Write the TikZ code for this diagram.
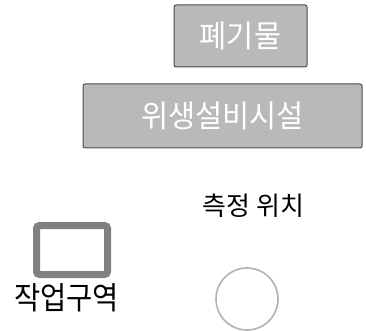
\documentclass[tikz,border=0pt]{standalone}
\usepackage{fontspec}
\setmainfont{Noto Sans CJK KR}
\begin{document}
\begin{tikzpicture}[x=1pt,y=-1pt,
  graybox/.style={draw=gray!60!black,line width=1pt,fill=gray!55,rounded corners=2pt,inner sep=0pt,
    text=white,font=\fontsize{29.5}{32}\selectfont},
  plain/.style={inner sep=0pt,text=black},
  workbox/.style={draw=gray,line width=7pt,rounded corners=3pt,minimum width=71pt,minimum height=49pt,inner sep=0pt},
  spot/.style={circle,draw=gray!60,line width=1.6pt,minimum size=62pt,inner sep=0pt}]
\useasboundingbox (0,0) rectangle (366,331);
\node[graybox,minimum width=133pt,minimum height=62pt] (waste) at (240.5,36) {\scalebox{1}[1.05]{폐기물}};
\node[graybox,minimum width=279pt,minimum height=64pt] (sanit) at (222.5,116) {\scalebox{1}[1.05]{위생설비시설}};
\node[plain,font=\fontsize{26}{30}\selectfont] (spotlabel) at (253.5,206) {측정 위치};
\node[workbox] (work) at (72,250) {};
\node[plain,font=\fontsize{28.5}{32}\selectfont] (worklabel) at (66.5,297.5) {\scalebox{1}[1.1]{작업구역}};
\node[spot] (spot) at (247,299) {};
\end{tikzpicture}
\end{document}
